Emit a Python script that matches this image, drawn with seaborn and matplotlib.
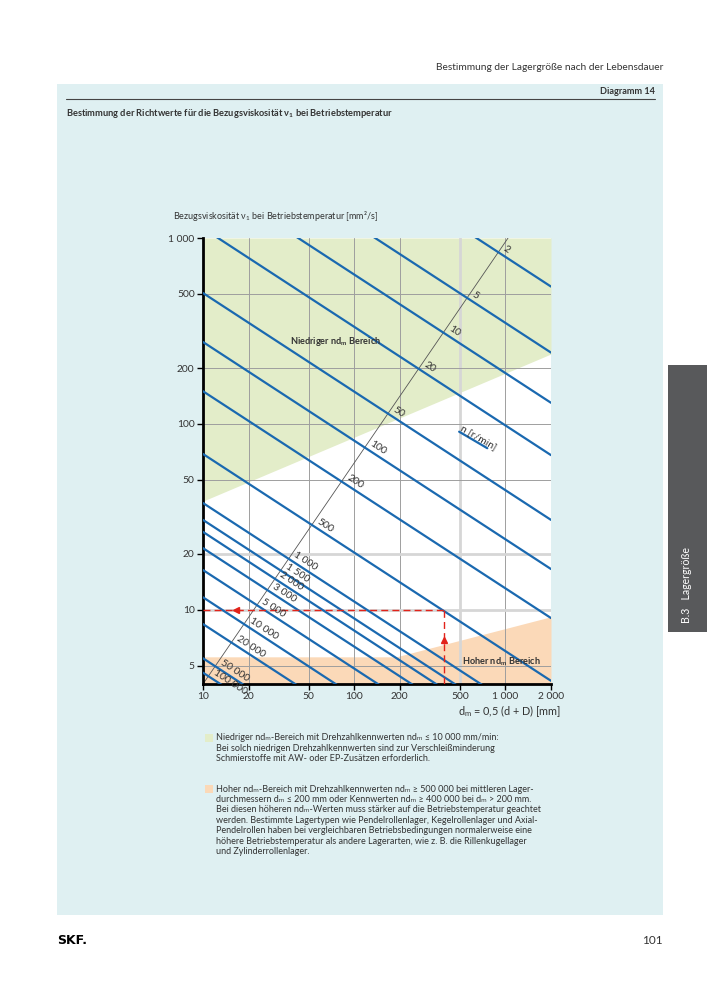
import numpy as np
import pandas as pd
import seaborn as sns
import matplotlib.pyplot as plt
from matplotlib.patches import Rectangle
from matplotlib.lines import Line2D
from matplotlib.ticker import NullLocator
import matplotlib.transforms as mtransforms

# speed lines n [r/min]: viscosity read at dm = 10 mm and dm = 2000 mm (extended past the frame)
n_values = [2, 5, 10, 20, 50, 100, 200, 500, 1000, 1500, 2000, 3000, 5000,
            10000, 20000, 50000, 100000]
n_labels = ['2', '5', '10', '20', '50', '100', '200', '500', '1 000', '1 500',
            '2 000', '3 000', '5 000', '10 000', '20 000', '50 000', '100 000']
nu_at_10 = [9080, 4010, 2155, 1129, 506, 276, 150, 69, 37.6, 30.5, 26.3, 21.5,
            16.4, 11.7, 8.4, 5.5, 4.6]
nu_at_2000 = [548, 242, 130, 68, 30.5, 16.6, 9.05, 4.16, 2.27, 1.84, 1.58, 1.30,
              0.99, 0.70, 0.51, 0.33, 0.28]

# n scale line
diag_dm = [10, 1040]
diag_nu = [4, 1000]

# zones
green_dm = [10, 2000]
green_nu = [38.5, 238]
orange_dm = [10, 190, 2000]
orange_nu = [5.6, 5.6, 9.2]

# worked example (red) and key for the n lines
example_dm = 390
example_nu = 10
key_dm = [494, 758]
key_nu = [90.9, 74.1]

x_ticks = [10, 20, 50, 100, 200, 500, 1000, 2000]
x_labels = ['10', '20', '50', '100', '200', '500', '1 000', '2 000']
y_ticks = [5, 10, 20, 50, 100, 200, 500, 1000]
y_labels = ['5', '10', '20', '50', '100', '200', '500', '1 000']

note_low = ['Niedriger ndₘ-Bereich mit Drehzahlkennwerten ndₘ ≤ 10 000 mm/min:',
            'Bei solch niedrigen Drehzahlkennwerten sind zur Verschleißminderung',
            'Schmierstoffe mit AW- oder EP-Zusätzen erforderlich.']
note_high = ['Hoher ndₘ-Bereich mit Drehzahlkennwerten ndₘ ≥ 500 000 bei mittleren Lager-',
             'durchmessern dₘ ≤ 200 mm oder Kennwerten ndₘ ≥ 400 000 bei dₘ > 200 mm.',
             'Bei diesen höheren ndₘ-Werten muss stärker auf die Betriebstemperatur geachtet',
             'werden. Bestimmte Lagertypen wie Pendelrollenlager, Kegelrollenlager und Axial-',
             'Pendelrollen haben bei vergleichbaren Betriebsbedingungen normalerweise eine',
             'höhere Betriebstemperatur als andere Lagerarten, wie z. B. die Rillenkugellager',
             'und Zylinderrollenlager.']

BLUE = '#1a69b0'
RED = '#e2231a'
GREEN = '#e3edc9'
ORANGE = '#fbd9b8'
PANEL = '#dff0f2'
TXT = '#333333'

sns.set_theme(style='white')
plt.rcParams['font.family'] = ['Lato', 'DejaVu Sans']
plt.rcParams['mathtext.default'] = 'regular'

fig = plt.figure(figsize=(7.07, 10), dpi=100)
fig.patch.set_facecolor('white')

# page furniture
fig.add_artist(Rectangle((57/707, 1-915/1000), 606/707, 831/1000, transform=fig.transFigure,
                         facecolor=PANEL, edgecolor='none', zorder=-5))
fig.add_artist(Rectangle((668/707, 1-632/1000), 39/707, 267/1000, transform=fig.transFigure,
                         facecolor='#58595b', edgecolor='none', zorder=1))
fig.add_artist(Line2D([66/707, 655/707], [1-99/1000, 1-99/1000], transform=fig.transFigure,
                      color='#444444', lw=0.8))
fig.text(663/707, 1-67/1000, 'Bestimmung der Lagergröße nach der Lebensdauer',
         ha='right', va='center', fontsize=7.3, color=TXT)
fig.text(655/707, 1-92/1000, 'Diagramm 14', ha='right', va='center', fontsize=6.6,
         fontweight='bold', color=TXT)
fig.text(66/707, 1-113/1000,
         'Bestimmung der Richtwerte für die Bezugsviskosität ν$_1$ bei Betriebstemperatur',
         ha='left', va='center', fontsize=6.65, fontweight='bold', color=TXT)
fig.text(687/707, 1-623/1000, 'B.3   Lagergröße', rotation=90, ha='center', va='bottom',
         fontsize=7.6, color='white')
fig.text(57/707, 1-940/1000, 'SKF.', ha='left', va='center', fontsize=9,
         fontweight='heavy', color='black', family='DejaVu Sans')
fig.text(663/707, 1-940/1000, '101', ha='right', va='center', fontsize=8.5, color=TXT)

ax = fig.add_axes([203/707, 1-684/1000, 348/707, 446/1000])
ax.set_xscale('log')
ax.set_yscale('log')
ax.set_xlim(10, 2000)
ax.set_ylim(4, 1000)
ax.set_facecolor('white')

# zones
ax.fill_between(green_dm, green_nu, 1000, color=GREEN, lw=0, zorder=0)
ax.fill_between(orange_dm, 4, orange_nu, color=ORANGE, lw=0, zorder=0)

# grid
for xv in x_ticks[1:-1]:
    if xv == 500:
        ax.axvline(xv, color='#d6d6d6', lw=2.0, zorder=1)
    else:
        ax.axvline(xv, color='#9e9e9e', lw=0.7, zorder=1)
for yv in y_ticks[:-1]:
    if yv in (10, 20):
        ax.axhline(yv, color='#d6d6d6', lw=2.0, zorder=1)
    else:
        ax.axhline(yv, color='#9e9e9e', lw=0.7, zorder=1)

# n scale
ax.plot(diag_dm, diag_nu, color='#555555', lw=0.6, zorder=2)

# speed lines
df = pd.DataFrame({
    'n': np.repeat(n_values, 2),
    'dm': [10, 2000] * len(n_values),
    'nu': np.ravel(np.column_stack([nu_at_10, nu_at_2000])),
})
sns.lineplot(data=df, x='dm', y='nu', units='n', estimator=None, sort=False,
             color=BLUE, lw=1.6, legend=False, ax=ax, zorder=3)

# labels on the n scale
k = np.log10(diag_nu[1] / diag_nu[0]) / np.log10(diag_dm[1] / diag_dm[0])
off = mtransforms.offset_copy(ax.transData, fig=fig, x=2.5, y=0.5, units='points')
for lab, a, b in zip(n_labels, nu_at_10, nu_at_2000):
    s = np.log10(a / b) / np.log10(200)
    t = (np.log10(a) - np.log10(diag_nu[0])) / (k + s)
    d = 10 * 10 ** t
    v = a * 10 ** (-s * t)
    p1 = ax.transData.transform((10, 100))
    p2 = ax.transData.transform((100, 100 * 10 ** (-s)))
    ang = np.degrees(np.arctan2(p2[1] - p1[1], p2[0] - p1[0]))
    ax.text(d, v, lab, transform=off, rotation=ang, rotation_mode='anchor',
            ha='left', va='bottom', fontsize=7.5, color=TXT, zorder=5)

# key "n [r/min]"
ax.plot(key_dm, key_nu, color=BLUE, lw=1.6, zorder=3)
p1 = ax.transData.transform((key_dm[0], key_nu[0]))
p2 = ax.transData.transform((key_dm[1], key_nu[1]))
kang = np.degrees(np.arctan2(p2[1] - p1[1], p2[0] - p1[0]))
ax.text(key_dm[0], key_nu[0], 'n [r/min]', rotation=kang, rotation_mode='anchor',
        ha='left', va='bottom', fontsize=7.5, color=TXT, zorder=5,
        transform=mtransforms.offset_copy(ax.transData, fig=fig, x=0, y=0.5, units='points'))

# worked example
ax.plot([example_dm, example_dm], [4, example_nu], color=RED, lw=1, dashes=(5, 3), zorder=4)
ax.plot([10, example_dm], [example_nu, example_nu], color=RED, lw=1, dashes=(5, 3), zorder=4)
ax.plot(example_dm, 6.9, marker='^', color=RED, ms=5, zorder=4)
ax.plot(16.5, example_nu, marker='<', color=RED, ms=5, zorder=4)

# zone names
ax.text(75, 279, r'Niedriger nd$_\mathregular{m}$ Bereich', ha='center', va='center',
        fontsize=6.6, fontweight='bold', color=TXT, zorder=5)
ax.text(940, 5.25, r'Hoher nd$_\mathregular{m}$ Bereich', ha='center', va='center',
        fontsize=6.6, fontweight='bold', color=TXT, zorder=5)

# axes styling
ax.set_xticks(x_ticks)
ax.set_xticklabels(x_labels)
ax.set_yticks(y_ticks)
ax.set_yticklabels(y_labels)
ax.xaxis.set_minor_locator(NullLocator())
ax.yaxis.set_minor_locator(NullLocator())
ax.tick_params(axis='both', direction='out', length=4, width=1, color='black',
               labelsize=7.4, labelcolor=TXT, pad=2, left=True, bottom=True)
for side in ['top', 'right']:
    ax.spines[side].set_visible(False)
for side in ['left', 'bottom']:
    ax.spines[side].set_linewidth(2)
    ax.spines[side].set_color('black')
ax.set_xlabel('')
ax.set_ylabel('')

fig.text(173/707, 1-216/1000,
         'Bezugsviskosität ν$_1$ bei Betriebstemperatur [mm²/s]',
         ha='left', va='center', fontsize=6.5, color=TXT)
fig.text(561/707, 1-711/1000, r'd$_\mathregular{m}$ = 0,5 (d + D) [mm]',
         ha='right', va='center', fontsize=7.8, color=TXT)

# notes
fig.add_artist(Rectangle((205/707, 1-742/1000), 8/707, 8/1000, transform=fig.transFigure,
                         facecolor=GREEN, edgecolor='none'))
fig.add_artist(Rectangle((205/707, 1-793/1000), 8/707, 8/1000, transform=fig.transFigure,
                         facecolor=ORANGE, edgecolor='none'))
for i, line in enumerate(note_low):
    fig.text(216/707, 1-(738 + 10.2 * i)/1000, line, ha='left', va='center',
             fontsize=6.45, color=TXT)
for i, line in enumerate(note_high):
    fig.text(216/707, 1-(789 + 10.4 * i)/1000, line, ha='left', va='center',
             fontsize=6.45, color=TXT)

fig.savefig('out.png', dpi=100)
